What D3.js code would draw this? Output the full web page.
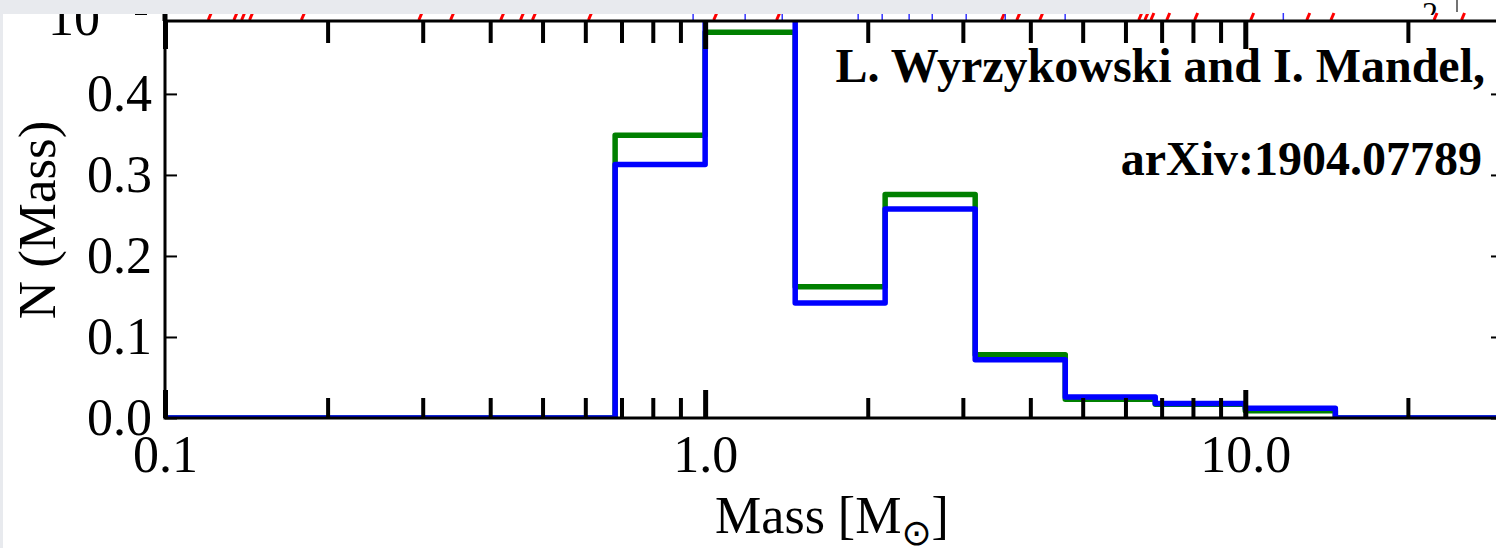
<!DOCTYPE html>
<html>
<head>
<meta charset="utf-8">
<script src="https://cdn.jsdelivr.net/npm/d3@7"></script>
<style>
  html, body { margin: 0; padding: 0; background: #fff; overflow: hidden; }
  svg { display: block; }
</style>
</head>
<body>
<svg id="chart" width="1496" height="548"></svg>
<script>
// Logarithmic mass bins (edges in solar masses)
const binEdges = [0.1, 0.1468, 0.2154, 0.3162, 0.4642, 0.6813, 1.0, 1.468, 2.154, 3.162, 4.642, 6.813, 10.0, 14.68, 21.54, 31.62];
// Normalised counts per bin for the two samples
const countsGreen = [0, 0, 0, 0, 0, 0.349, 0.476, 0.162, 0.276, 0.078, 0.023, 0.017, 0.009, 0, 0];
const countsBlue  = [0, 0, 0, 0, 0, 0.313, 0.520, 0.142, 0.258, 0.072, 0.026, 0.018, 0.012, 0, 0];

// Axis ticks
const xMajorTicks = [0.1, 1, 10];
const xMajorLabels = ["0.1", "1.0", "10.0"];
const xMinorTicks = [0.2, 0.3, 0.4, 0.5, 0.6, 0.7, 0.8, 0.9, 2, 3, 4, 5, 6, 7, 8, 9, 20];
const yTicks = [0.0, 0.1, 0.2, 0.3, 0.4];
const yTickLabels = ["0.0", "0.1", "0.2", "0.3", "0.4"];

// Marks of the panel above that poke out over the top spine
const upperRedMasses = [0.121, 0.135, 0.1395, 0.1443, 0.180, 0.297, 0.340, 0.421, 0.458, 0.482, 0.612, 1.044, 1.365,
                        3.56, 3.80, 4.19, 6.39, 6.56, 6.73, 7.20, 8.11, 10.3, 13.08, 14.5, 22.5, 25.3];
const upperBlueMasses = [0.950, 1.186, 1.389, 1.92, 2.127, 2.386, 2.633, 3.043, 3.594, 4.64, 11.76];

const svg = d3.select("#chart");
const serif = "'Liberation Serif', 'Times New Roman', serif";

const x = d3.scaleLog().domain([0.1, 30]).range([165, 1503]);
const y = d3.scaleLinear().domain([0, 0.49]).range([418, 21]);
const [x0, x1] = x.range();
const [yB, yT] = y.range();

// ---- fragment of the panel above ----
const upper = svg.append("g");
upper.selectAll("line.red").data(upperRedMasses).join("line")
  .attr("x1", d => x(d) - 1.5).attr("x2", d => x(d) + 1.5)
  .attr("y1", 20).attr("y2", 13)
  .attr("stroke", "#ff0000").attr("stroke-width", 3);
upper.selectAll("line.blue").data(upperBlueMasses).join("line")
  .attr("x1", d => x(d)).attr("x2", d => x(d))
  .attr("y1", 20).attr("y2", 13)
  .attr("stroke", "#3333ff").attr("stroke-width", 1.5);
upper.append("text")
  .attr("x", 100).attr("y", 35).attr("text-anchor", "end")
  .style("font-family", serif).style("font-size", "52px").text("10");
upper.append("line").attr("x1", 135).attr("x2", 147).attr("y1", 14).attr("y2", 14)
  .attr("stroke", "#000").attr("stroke-width", 2);
upper.append("line").attr("x1", x0).attr("x2", x0).attr("y1", 8).attr("y2", 21)
  .attr("stroke", "#000").attr("stroke-width", 5);
svg.append("clipPath").attr("id", "upclip").append("rect")
  .attr("x", 1400).attr("y", 0).attr("width", 96).attr("height", 15);
upper.append("text").attr("clip-path", "url(#upclip)")
  .attr("x", 1430).attr("y", 24).attr("text-anchor", "middle")
  .style("font-family", serif).style("font-size", "32px").text("2");
upper.append("line").attr("x1", 1457).attr("x2", 1457).attr("y1", 0).attr("y2", 12)
  .attr("stroke", "#444").attr("stroke-width", 1.5);

// ---- histogram steps ----
svg.append("clipPath").attr("id", "plotclip").append("rect")
  .attr("x", x0).attr("y", yT).attr("width", x1 - x0).attr("height", yB - yT);

function stepPoints(counts) {
  const pts = counts.map((c, i) => [binEdges[i], c]);
  pts.push([binEdges[binEdges.length - 1], counts[counts.length - 1]]);
  return pts;
}
const step = d3.line().x(d => x(d[0])).y(d => y(d[1])).curve(d3.curveStepAfter);

const hist = svg.append("g").attr("clip-path", "url(#plotclip)");
[[countsGreen, "#008000"], [countsBlue, "#0000ff"]].forEach(([counts, color]) => {
  hist.append("path")
    .attr("d", step(stepPoints(counts)))
    .attr("fill", "none").attr("stroke", color)
    .attr("stroke-width", 5.5).attr("stroke-linejoin", "round");
});

// ---- axes ----
function styleAxis(g, width) {
  g.select(".domain").remove();
  g.selectAll(".tick line").attr("stroke", "#000").attr("stroke-width", width);
  g.selectAll(".tick text").style("font-family", serif).style("font-size", "52px").attr("fill", "#000");
}

svg.append("g").attr("transform", `translate(0,${yB})`)
  .call(d3.axisBottom(x).tickValues(xMinorTicks).tickSize(-20).tickFormat(""))
  .call(g => styleAxis(g, 4));
svg.append("g").attr("transform", `translate(0,${yB})`)
  .call(d3.axisBottom(x).tickValues(xMajorTicks).tickSize(-28).tickPadding(17)
    .tickFormat((d, i) => xMajorLabels[i]))
  .call(g => styleAxis(g, 5));

svg.append("g").attr("transform", `translate(0,${yT})`)
  .call(d3.axisTop(x).tickValues(xMinorTicks).tickSize(-22).tickFormat(""))
  .call(g => styleAxis(g, 4));
svg.append("g").attr("transform", `translate(0,${yT})`)
  .call(d3.axisTop(x).tickValues(xMajorTicks).tickSize(-28).tickFormat(""))
  .call(g => styleAxis(g, 5));

svg.append("g").attr("transform", `translate(${x0},0)`)
  .call(d3.axisLeft(y).tickValues(yTicks).tickSize(-12).tickPadding(13)
    .tickFormat((d, i) => yTickLabels[i]))
  .call(g => styleAxis(g, 2));
svg.append("g").attr("transform", `translate(${x1},0)`)
  .call(d3.axisRight(y).tickValues(yTicks).tickSize(-12).tickFormat(""))
  .call(g => styleAxis(g, 2));

// frame
svg.append("rect")
  .attr("x", x0).attr("y", yT).attr("width", x1 - x0).attr("height", yB - yT)
  .attr("fill", "none").attr("stroke", "#000").attr("stroke-width", 3);

// ---- axis titles ----
const xt = svg.append("text")
  .attr("x", 832).attr("y", 533).attr("text-anchor", "middle")
  .style("font-family", serif).style("font-size", "52px");
xt.append("tspan").text("Mass [M");
xt.append("tspan").attr("dy", 12).style("font-size", "36px").style("font-family", "'DejaVu Sans', sans-serif").text("\u2299");
xt.append("tspan").attr("dy", -12).text("]");

svg.append("text")
  .attr("transform", "translate(55,220) rotate(-90)")
  .attr("text-anchor", "middle")
  .style("font-family", serif).style("font-size", "53px")
  .text("N (Mass)");

// ---- citation ----
const cite = svg.append("g")
  .style("font-family", serif).style("font-size", "48px").style("font-weight", "bold")
  .attr("text-anchor", "end");
cite.append("text").attr("x", 1485).attr("y", 82).text("L. Wyrzykowski and I. Mandel,");
cite.append("text").attr("x", 1482).attr("y", 175).text("arXiv:1904.07789");

// ---- surrounding slide border ----
svg.append("rect").attr("x", 0).attr("y", 0).attr("width", 1150).attr("height", 14).attr("fill", "#e8eaee");
svg.append("rect").attr("x", 0).attr("y", 0).attr("width", 3).attr("height", 548).attr("fill", "#e8eaee");
</script>
</body>
</html>
